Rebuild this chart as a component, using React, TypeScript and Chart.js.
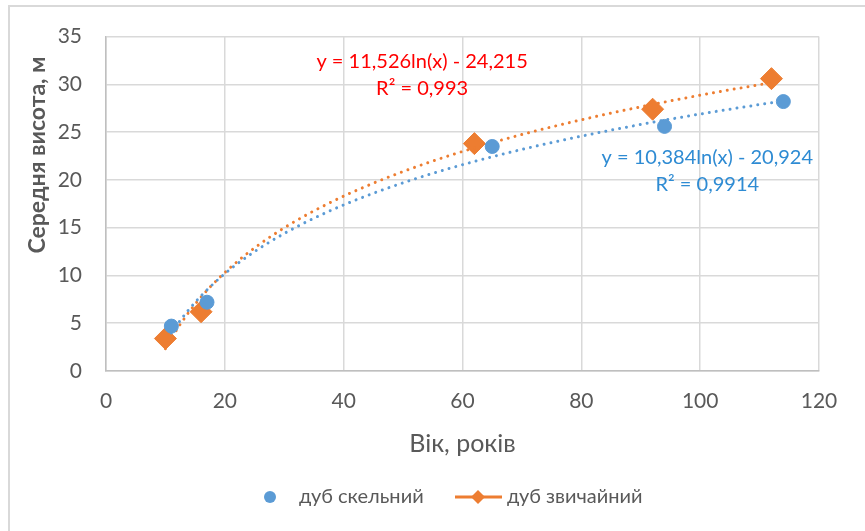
import React, { useEffect, useRef } from "react";
import { Chart, registerables } from "chart.js";
Chart.register(...registerables);

// ---- data ----
const seriesNames = ["дуб скельний", "дуб звичайний"];
const rockAge = [11, 17, 65, 94, 114];
const rockHeight = [4.7, 7.2, 23.5, 25.6, 28.2];
const commonAge = [10, 16, 62, 92, 112];
const commonHeight = [3.4, 6.2, 23.8, 27.4, 30.6];
// logarithmic trendlines y = a*ln(x) + b (as printed on the chart)
const rockTrendA = 10.384;
const rockTrendB = -20.924;
const commonTrendA = 11.526;
const commonTrendB = -24.215;
const rockLabel = ["y = 10,384ln(x) - 20,924", "R² = 0,9914"];
const commonLabel = ["y = 11,526ln(x) - 24,215", "R² = 0,993"];
const xTitle = "Вік, років";
const yTitle = "Середня висота, м";
const xMin = 0, xMax = 120, xStep = 20;
const yMin = 0, yMax = 35, yStep = 5;

const BLUE = "#5b9bd5";
const ORANGE = "#ed7d31";
const GREY = "#595959";
const GRID = "#d9d9d9";
const FONT = "Lato, 'Open Sans', 'Noto Sans', sans-serif";

function trend(a: number, b: number, xs: number[]) {
  const lo = Math.min(...xs), hi = Math.max(...xs);
  const pts: { x: number; y: number }[] = [];
  const n = 80;
  for (let i = 0; i <= n; i++) {
    const x = lo + ((hi - lo) * i) / n;
    pts.push({ x, y: a * Math.log(x) + b });
  }
  return pts;
}

const overlay = {
  id: "overlay",
  afterDraw(chart: any) {
    const { ctx, scales } = chart;
    const xs = scales.x, ys = scales.y;
    ctx.save();
    // frame (top and left edges visible)
    ctx.strokeStyle = GRID;
    ctx.lineWidth = 2;
    ctx.beginPath();
    ctx.moveTo(9, 531);
    ctx.lineTo(9, 6);
    ctx.lineTo(865, 6);
    ctx.stroke();

    // y title
    ctx.save();
    ctx.translate(38, 155);
    ctx.rotate(-Math.PI / 2);
    ctx.font = `bold 23px ${FONT}`;
    ctx.fillStyle = GREY;
    ctx.textAlign = "center";
    ctx.textBaseline = "middle";
    ctx.fillText(yTitle, 0, 0);
    ctx.restore();

    // equation labels
    ctx.font = `20px ${FONT}`;
    ctx.textAlign = "center";
    ctx.textBaseline = "middle";
    ctx.fillStyle = "#ff0000";
    let cx = xs.getPixelForValue(53.2), cy = ys.getPixelForValue(32.4);
    ctx.fillText(commonLabel[0], cx, cy);
    ctx.fillText(commonLabel[1], cx, cy + 27);
    ctx.fillStyle = "#2e8bd3";
    cx = xs.getPixelForValue(101.2); cy = ys.getPixelForValue(22.3);
    ctx.fillText(rockLabel[0], cx, cy);
    ctx.fillText(rockLabel[1], cx, cy + 27);

    // legend
    const ly = 497;
    ctx.font = `20px ${FONT}`;
    ctx.textAlign = "left";
    ctx.fillStyle = BLUE;
    ctx.beginPath();
    ctx.arc(270, ly, 6, 0, Math.PI * 2);
    ctx.fill();
    ctx.fillStyle = GREY;
    ctx.fillText(seriesNames[0], 299, ly);
    ctx.strokeStyle = ORANGE;
    ctx.lineWidth = 3;
    ctx.beginPath();
    ctx.moveTo(455, ly);
    ctx.lineTo(502, ly);
    ctx.stroke();
    ctx.fillStyle = ORANGE;
    ctx.beginPath();
    ctx.moveTo(478, ly - 7);
    ctx.lineTo(485, ly);
    ctx.lineTo(478, ly + 7);
    ctx.lineTo(471, ly);
    ctx.closePath();
    ctx.fill();
    ctx.fillStyle = GREY;
    ctx.fillText(seriesNames[1], 507, ly);
    ctx.restore();
  },
};

export default function App() {
  const ref = useRef<HTMLCanvasElement | null>(null);
  useEffect(() => {
    if (!ref.current) return;
    const chart = new Chart(ref.current, {
      type: "scatter",
      data: {
        datasets: [
          {
            label: "rockTrend",
            type: "line",
            data: trend(rockTrendA, rockTrendB, rockAge),
            borderColor: BLUE,
            borderWidth: 3,
            borderDash: [0.01, 7],
            borderCapStyle: "round",
            pointRadius: 0,
            fill: false,
            order: 0,
          } as any,
          {
            label: seriesNames[0],
            data: rockAge.map((x, i) => ({ x, y: rockHeight[i] })),
            backgroundColor: BLUE,
            borderColor: BLUE,
            pointStyle: "circle",
            pointRadius: 7,
            order: 1,
          },
          {
            label: "commonTrend",
            type: "line",
            data: trend(commonTrendA, commonTrendB, commonAge),
            borderColor: ORANGE,
            borderWidth: 3,
            borderDash: [0.01, 7],
            borderCapStyle: "round",
            pointRadius: 0,
            fill: false,
            order: 2,
          } as any,
          {
            label: seriesNames[1],
            data: commonAge.map((x, i) => ({ x, y: commonHeight[i] })),
            backgroundColor: ORANGE,
            borderColor: ORANGE,
            pointStyle: "rectRot",
            pointRadius: 11,
            order: 3,
          },
        ],
      },
      options: {
        responsive: false,
        animation: false,
        layout: { padding: { left: 0, right: 46, top: 36, bottom: 60 } },
        plugins: { legend: { display: false }, tooltip: { enabled: false } },
        scales: {
          x: {
            type: "linear",
            min: xMin,
            max: xMax,
            ticks: { stepSize: xStep, color: GREY, font: { family: FONT, size: 21 }, padding: 18 },
            grid: { color: GRID, lineWidth: 1.5, drawTicks: false },
            border: { color: "#bfbfbf", width: 1.5 },
            title: {
              display: true,
              text: xTitle,
              color: GREY,
              font: { family: FONT, size: 25 },
              padding: { top: 0, bottom: 12 },
            },
            afterFit: (s: any) => { s.height = 100; },
          },
          y: {
            type: "linear",
            min: yMin,
            max: yMax,
            ticks: { stepSize: yStep, color: GREY, font: { family: FONT, size: 21 }, padding: 24 },
            grid: { color: GRID, lineWidth: 1.5, drawTicks: false },
            border: { color: "#bfbfbf", width: 1.5 },
            afterFit: (s: any) => { s.width = 106; },
          },
        },
      },
      plugins: [overlay],
    });
    return () => chart.destroy();
  }, []);
  return (
    <div style={{ position: "fixed", left: 0, top: 0, width: 865, height: 531, background: "#fff" }}>
      <canvas ref={ref} width={865} height={531} style={{ width: 865, height: 531 }} />
    </div>
  );
}
